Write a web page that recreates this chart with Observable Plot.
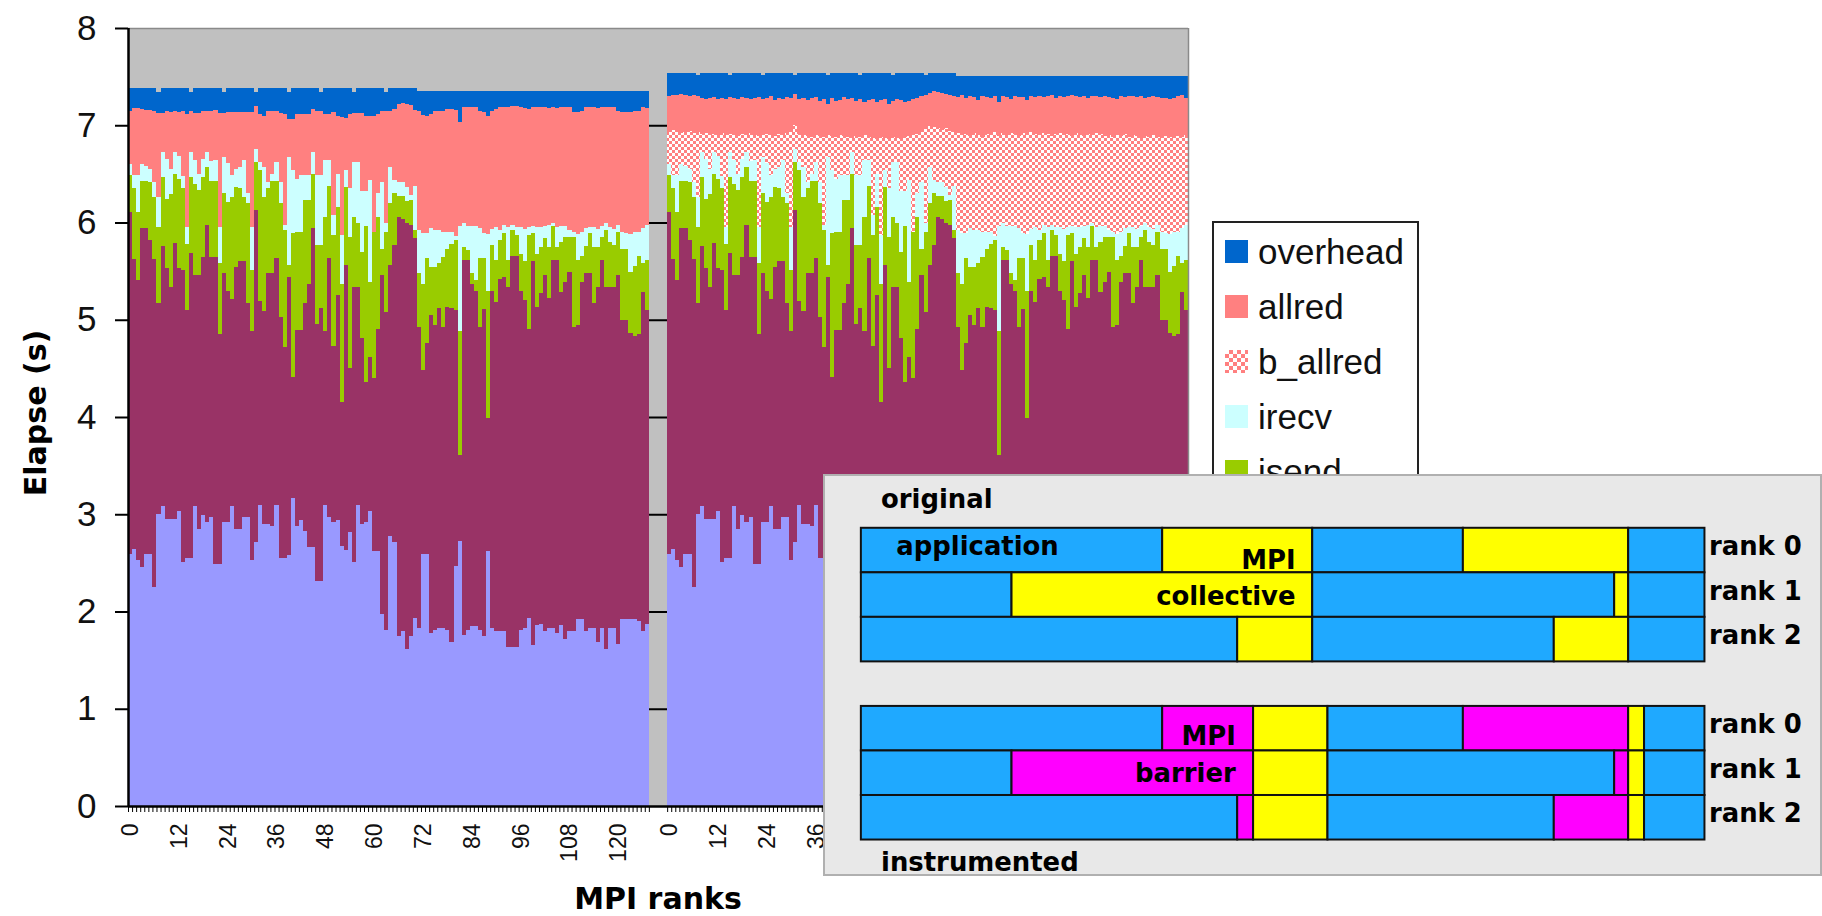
<!DOCTYPE html>
<html><head><meta charset="utf-8">
<script src="https://cdn.jsdelivr.net/npm/d3@7"></script>
<script src="https://cdn.jsdelivr.net/npm/@observablehq/plot@0.6"></script>
<style>
html,body{margin:0;padding:0;background:#fff;}
body{width:1822px;height:916px;overflow:hidden;position:relative;font-family:"Liberation Sans",Arial,sans-serif;}
#chart{position:absolute;left:0;top:0;}
#ytitle{position:absolute;left:-117px;top:398px;width:300px;height:30px;line-height:30px;text-align:center;font:bold 30px "DejaVu Sans",sans-serif;transform:rotate(-90deg);}
#xtitle{position:absolute;left:458px;top:881px;width:400px;height:30px;line-height:30px;text-align:center;font:bold 30px "DejaVu Sans",sans-serif;}
#legend{position:absolute;left:1212px;top:221px;width:207px;height:340px;box-sizing:border-box;border:2px solid #222;background:#fff;}
#legend .item{position:absolute;left:0;height:40px;width:200px;}
#legend .sw{position:absolute;left:11px;top:8px;width:23px;height:23px;}
#legend .lab{position:absolute;left:44px;top:0;line-height:40px;font-size:35px;color:#111;white-space:nowrap;}
#inset{position:absolute;left:823px;top:474px;width:999px;height:402px;box-sizing:border-box;border:2px solid #b0b0b0;background:#e8e8e8;}
#inset svg{position:absolute;left:-2px;top:-2px;overflow:visible;}
</style></head><body>
<div id="chart"></div>
<div id="ytitle">Elapse (s)</div>
<div id="xtitle">MPI ranks</div>
<div id="legend"></div>
<div id="inset"></div>
<script>
// ---------------- data (seconds, cumulative tops per rank) ----------------
const rankLabels = [0,12,24,36,48,60,72,84,96,108,120];
const yTicks = [0,1,2,3,4,5,6,7,8];
const legendNames = ["overhead","allred","b_allred","irecv","isend"];

// bottom (lavender) series top
const compTop = [2.59,2.64,2.53,2.46,2.59,2.59,2.25,3.00,3.08,2.95,
 2.95,2.95,3.03,2.51,2.55,2.55,3.08,2.85,2.99,2.92,
 2.97,2.49,2.49,2.92,2.92,3.08,2.85,2.85,2.97,2.97,
 2.53,2.71,3.10,2.90,2.90,2.88,3.10,2.55,2.55,2.58,
 3.17,2.88,2.94,2.83,2.66,2.66,2.31,2.31,3.10,2.97,
 2.92,2.94,2.67,2.63,2.82,2.51,3.10,2.90,2.92,3.03,
 2.62,2.62,1.97,1.81,2.78,2.71,1.75,1.80,1.61,1.75,
 1.93,1.83,2.59,2.59,1.78,1.81,1.83,1.83,1.81,1.69,
 2.47,2.73,1.76,1.81,1.85,1.85,1.81,1.75,2.62,1.83,
 1.80,1.80,1.80,1.63,1.63,1.63,1.81,1.83,1.93,1.66,
 1.86,1.87,1.80,1.83,1.83,1.78,1.86,1.72,1.80,1.80,
 1.92,1.92,1.80,1.83,1.83,1.69,1.83,1.61,1.83,1.83,
 1.67,1.92,1.92,1.92,1.92,1.90,1.80,1.87];
// maroon series top
const waitTop = [6.11,5.62,5.41,5.94,5.94,5.82,5.62,5.17,5.76,5.53,
 5.34,5.79,5.53,5.51,5.10,5.69,5.46,5.46,5.65,5.97,
 5.65,5.65,4.85,5.48,5.30,5.21,5.54,5.60,5.60,5.17,
 4.88,6.13,5.19,5.09,5.48,5.48,5.64,5.03,4.72,5.44,
 4.41,4.89,4.89,5.17,5.37,5.94,4.96,5.12,4.88,5.63,
 4.73,5.25,4.15,5.56,4.50,5.34,5.34,4.81,4.36,4.62,
 4.40,4.91,5.46,5.08,5.56,5.77,6.06,6.04,6.00,5.97,
 5.84,4.93,4.48,4.76,5.05,4.95,5.12,4.93,5.13,5.12,
 5.10,3.61,5.61,5.61,5.37,5.30,4.93,5.11,3.99,5.30,
 5.18,5.42,5.44,5.34,5.66,5.66,5.30,5.20,4.90,5.60,
 5.13,5.27,5.46,5.22,5.61,5.61,5.29,5.39,5.49,4.93,
 4.95,5.39,5.48,5.48,5.17,5.34,5.61,5.34,5.34,5.34,
 5.46,5.00,5.00,4.86,4.83,4.85,5.29,5.10];
const isendTop = [6.49,6.35,6.11,6.43,6.43,6.42,6.26,5.95,6.47,6.24,
 6.29,6.50,6.45,6.35,5.78,6.47,6.40,6.33,6.47,6.57,
 6.43,6.43,5.58,6.30,6.21,6.26,6.37,6.35,6.26,6.20,
 5.51,6.62,6.54,6.26,6.35,6.43,6.43,6.20,5.92,5.56,
 5.89,5.90,5.90,6.23,6.23,6.50,5.77,5.77,6.06,6.38,
 5.87,6.16,5.37,6.37,5.85,6.06,5.99,5.70,5.96,5.39,
 5.97,6.06,5.73,5.90,6.20,6.30,6.27,6.27,6.22,6.23,
 5.92,5.48,5.37,5.63,5.54,5.54,5.58,5.65,5.73,5.78,
 5.82,4.88,5.75,5.72,5.48,5.41,5.63,5.63,5.30,5.77,
 5.61,5.82,5.89,5.61,5.92,5.87,5.68,5.60,5.87,5.89,
 5.68,5.75,5.84,5.75,5.96,5.75,5.80,5.85,5.85,5.85,
 5.61,5.66,5.76,5.89,5.75,5.75,5.85,5.92,5.80,5.77,
 5.90,5.73,5.73,5.49,5.55,5.66,5.58,5.61];
const irecvTop = [6.60,6.49,6.49,6.60,6.58,6.55,6.42,6.26,6.72,6.65,
 6.55,6.72,6.68,6.48,5.95,6.72,6.64,6.50,6.65,6.72,
 6.63,6.64,5.95,6.67,6.61,6.49,6.55,6.57,6.64,6.30,
 5.95,6.76,6.62,6.57,6.42,6.50,6.62,6.42,5.97,6.67,
 6.54,6.45,6.49,6.49,6.49,6.72,6.49,6.49,6.64,6.64,
 6.08,6.50,5.87,6.54,6.35,6.62,6.62,6.32,6.32,6.44,
 5.90,6.30,6.42,6.00,6.57,6.44,6.42,6.42,6.36,6.28,
 6.38,5.92,5.89,5.89,5.94,5.92,5.92,5.90,5.90,5.90,
 5.86,5.96,5.99,5.96,5.96,5.96,5.94,5.89,5.88,5.93,
 5.95,5.92,5.97,5.95,5.97,5.95,5.95,5.93,5.95,5.96,
 5.95,5.95,5.96,5.97,6.00,5.95,5.96,5.96,5.92,5.90,
 5.88,5.90,5.94,5.95,5.95,5.93,5.96,6.00,5.95,5.93,
 5.97,5.90,5.89,5.88,5.90,5.90,5.94,5.97];
// original run
const allredTopOrig = [7.15,7.18,7.18,7.17,7.16,7.16,7.15,7.13,7.13,7.15,
 7.14,7.15,7.14,7.15,7.12,7.15,7.13,7.13,7.15,7.15,
 7.15,7.16,7.13,7.13,7.14,7.14,7.14,7.14,7.14,7.14,
 7.14,7.20,7.12,7.10,7.15,7.15,7.15,7.13,7.12,7.06,
 7.06,7.12,7.12,7.12,7.12,7.17,7.15,7.15,7.12,7.12,
 7.14,7.09,7.08,7.07,7.12,7.13,7.13,7.13,7.09,7.09,
 7.10,7.12,7.15,7.15,7.15,7.17,7.22,7.23,7.22,7.21,
 7.16,7.15,7.11,7.10,7.12,7.15,7.15,7.15,7.17,7.17,
 7.16,7.03,7.19,7.19,7.19,7.19,7.15,7.14,7.09,7.15,
 7.17,7.19,7.19,7.19,7.20,7.20,7.19,7.18,7.17,7.19,
 7.19,7.19,7.19,7.18,7.19,7.18,7.19,7.19,7.19,7.14,
 7.14,7.15,7.19,7.19,7.19,7.18,7.19,7.19,7.19,7.19,
 7.15,7.14,7.14,7.14,7.15,7.15,7.19,7.18];
const overheadTopOrig = [7.38,7.38,7.38,7.38,7.38,7.38,7.38,7.34,7.38,7.38,
 7.38,7.38,7.38,7.38,7.38,7.34,7.38,7.38,7.38,7.38,
 7.38,7.38,7.38,7.34,7.38,7.38,7.38,7.38,7.38,7.38,
 7.38,7.34,7.38,7.38,7.38,7.38,7.38,7.38,7.38,7.34,
 7.38,7.38,7.38,7.38,7.38,7.38,7.38,7.34,7.38,7.38,
 7.38,7.38,7.38,7.38,7.38,7.34,7.38,7.38,7.38,7.38,
 7.38,7.38,7.38,7.34,7.38,7.38,7.38,7.38,7.38,7.38,
 7.38,7.35,7.35,7.35,7.35,7.35,7.35,7.35,7.35,7.35,
 7.35,7.35,7.35,7.35,7.35,7.35,7.35,7.35,7.35,7.35,
 7.35,7.35,7.35,7.35,7.35,7.35,7.35,7.35,7.35,7.35,
 7.35,7.35,7.35,7.35,7.35,7.35,7.35,7.35,7.35,7.35,
 7.35,7.35,7.35,7.35,7.35,7.35,7.35,7.35,7.35,7.35,
 7.35,7.35,7.35,7.35,7.35,7.35,7.35,7.35];
// instrumented run (lower layers read the same as the original run)
const bAllredTopInstr = [6.93,6.95,6.93,6.92,6.93,6.94,6.92,6.93,6.91,6.92,
 6.90,6.91,6.90,6.92,6.90,6.91,6.90,6.89,6.91,6.90,
 6.92,6.90,6.89,6.90,6.91,6.90,6.89,6.91,6.90,6.92,
 6.93,7.00,6.91,6.90,6.89,6.88,6.90,6.89,6.88,6.90,
 6.89,6.88,6.90,6.89,6.88,6.87,6.89,6.88,6.90,6.88,
 6.87,6.86,6.88,6.87,6.86,6.88,6.87,6.86,6.88,6.89,
 6.90,6.91,6.93,6.96,6.99,6.98,6.97,6.95,6.97,6.94,
 6.93,6.92,6.90,6.91,6.89,6.92,6.90,6.88,6.91,6.90,
 6.93,6.89,6.92,6.90,6.92,6.91,6.89,6.92,6.90,6.93,
 6.91,6.90,6.92,6.91,6.89,6.91,6.92,6.90,6.91,6.89,
 6.92,6.90,6.89,6.91,6.90,6.92,6.91,6.89,6.90,6.88,
 6.90,6.89,6.91,6.88,6.90,6.89,6.87,6.89,6.88,6.90,
 6.88,6.87,6.89,6.88,6.87,6.89,6.88,6.90];
const allredTopInstr = [7.30,7.31,7.31,7.32,7.31,7.30,7.31,7.30,7.28,7.27,
 7.28,7.29,7.27,7.28,7.27,7.29,7.28,7.27,7.29,7.28,
 7.27,7.28,7.29,7.27,7.28,7.30,7.26,7.28,7.27,7.29,
 7.28,7.32,7.27,7.28,7.26,7.28,7.29,7.25,7.27,7.22,
 7.28,7.25,7.26,7.29,7.27,7.28,7.25,7.27,7.24,7.26,
 7.27,7.24,7.26,7.27,7.22,7.25,7.27,7.26,7.24,7.25,
 7.27,7.28,7.30,7.31,7.33,7.35,7.34,7.33,7.32,7.31,
 7.30,7.29,7.31,7.28,7.30,7.29,7.26,7.30,7.29,7.28,
 7.30,7.24,7.30,7.29,7.27,7.30,7.29,7.29,7.26,7.30,
 7.29,7.30,7.29,7.30,7.31,7.28,7.30,7.29,7.30,7.31,
 7.30,7.29,7.30,7.28,7.30,7.30,7.29,7.30,7.29,7.28,
 7.27,7.30,7.29,7.30,7.30,7.29,7.30,7.28,7.29,7.30,
 7.29,7.28,7.28,7.27,7.28,7.30,7.31,7.28];
const overheadTopInstr = [7.54,7.54,7.54,7.54,7.54,7.54,7.54,7.52,7.54,7.54,
 7.54,7.54,7.54,7.54,7.54,7.52,7.54,7.54,7.54,7.54,
 7.54,7.54,7.54,7.52,7.54,7.54,7.54,7.54,7.54,7.54,
 7.54,7.52,7.54,7.54,7.54,7.54,7.54,7.54,7.54,7.52,
 7.54,7.54,7.54,7.54,7.54,7.54,7.54,7.52,7.54,7.54,
 7.54,7.54,7.54,7.54,7.54,7.52,7.54,7.54,7.54,7.54,
 7.54,7.54,7.54,7.52,7.54,7.54,7.54,7.54,7.54,7.54,
 7.54,7.51,7.51,7.51,7.51,7.51,7.51,7.51,7.51,7.51,
 7.51,7.51,7.51,7.51,7.51,7.51,7.51,7.51,7.51,7.51,
 7.51,7.51,7.51,7.51,7.51,7.51,7.51,7.51,7.51,7.51,
 7.51,7.51,7.51,7.51,7.51,7.51,7.51,7.51,7.51,7.51,
 7.51,7.51,7.51,7.51,7.51,7.51,7.51,7.51,7.51,7.51,
 7.51,7.51,7.51,7.51,7.51,7.51,7.51,7.51];

// inset timelines: [start, end, kind]
const insetOriginal = [
 [[0,474,"app"],[474,710,"mpi"],[710,947,"app"],[947,1207,"mpi"],[1207,1327,"app"]],
 [[0,237,"app"],[237,710,"mpi"],[710,1185,"app"],[1185,1207,"mpi"],[1207,1327,"app"]],
 [[0,592,"app"],[592,710,"mpi"],[710,1090,"app"],[1090,1207,"mpi"],[1207,1327,"app"]]
];
const insetInstrumented = [
 [[0,474,"app"],[474,617,"bar"],[617,734,"mpi"],[734,947,"app"],[947,1207,"bar"],[1207,1232,"mpi"],[1232,1327,"app"]],
 [[0,237,"app"],[237,617,"bar"],[617,734,"mpi"],[734,1185,"app"],[1185,1207,"bar"],[1207,1232,"mpi"],[1232,1327,"app"]],
 [[0,592,"app"],[592,617,"bar"],[617,734,"mpi"],[734,1090,"app"],[1090,1207,"bar"],[1207,1232,"mpi"],[1232,1327,"app"]]
];
const insetTextsStart = [
 {text:"original", x:31, y:-0.64},
 {text:"instrumented", x:31, y:7.50},
 {text:"application", x:55, y:0.42}
];
const insetTextsEnd = [
 {text:"MPI", x:683, y:0.72},
 {text:"collective", x:683, y:1.54},
 {text:"MPI", x:589, y:4.68},
 {text:"barrier", x:589, y:5.52}
];

// ---------------- build ----------------
const colors = {comp:"#9999ff", wait:"#993366", isend:"#99cc00", irecv:"#ccffff",
  b_allred:"url(#checker)", allred:"#ff8080", overhead:"#0066cc"};
const N = compTop.length;
const groupGap = 4.5;
const offB = N + groupGap;
const xMax = offB + N;
const bars = [];
function addGroup(off, layers) {
  for (let i = 0; i < N; i++) {
    let prev = 0;
    for (const [name, tops] of layers) {
      bars.push({series:name, x1:off+i, x2:off+i+1, y1:prev, y2:tops[i]});
      prev = tops[i];
    }
  }
}
addGroup(0, [["comp",compTop],["wait",waitTop],["isend",isendTop],["irecv",irecvTop],["allred",allredTopOrig],["overhead",overheadTopOrig]]);
addGroup(offB, [["comp",compTop],["wait",waitTop],["isend",isendTop],["irecv",irecvTop],["b_allred",bAllredTopInstr],["allred",allredTopInstr],["overhead",overheadTopInstr]]);

const boundaries = [...d3.range(0, N+1), ...d3.range(0, N+1).map(i => offB + i)];
const labelTicks = [], labelMap = new Map();
for (const r of rankLabels) {
  labelTicks.push(r + 0.5); labelMap.set(r + 0.5, String(r));
  labelTicks.push(offB + r + 0.5); labelMap.set(offB + r + 0.5, String(r));
}

const marks = [
  Plot.frame({fill:"#c0c0c0", stroke:null}),
  Plot.ruleY(yTicks.slice(1, -1), {stroke:"#000", strokeWidth:2})
];
for (const s of Object.keys(colors)) {
  marks.push(Plot.rect(bars.filter(d => d.series === s),
    {x1:"x1", x2:"x2", y1:"y1", y2:"y2", fill:colors[s], shapeRendering:"crispEdges"}));
}
marks.push(
  Plot.ruleY([8], {stroke:"#8a8a8a", strokeWidth:1.5}),
  Plot.ruleX([xMax], {stroke:"#8a8a8a", strokeWidth:1.5}),
  Plot.axisY({ticks:yTicks, tickSize:13, tickPadding:19, fontSize:35, label:null, strokeWidth:2, stroke:"#000"}),
  Plot.axisX({ticks:boundaries, tickSize:6, tickFormat:() => "", label:null, stroke:"#000"}),
  Plot.axisX({ticks:labelTicks, tickSize:0, tickPadding:17, tickRotate:-90, tickFormat:d => labelMap.get(d), fontSize:23, label:null}),
  Plot.ruleX([0], {stroke:"#000", strokeWidth:2.5}),
  Plot.ruleY([0], {stroke:"#000", strokeWidth:2.5})
);

const chart = Plot.plot({
  width:1822, height:916,
  marginLeft:128, marginRight:634, marginTop:28, marginBottom:110,
  x:{domain:[0, xMax]}, y:{domain:[0, 8]},
  style:{fontFamily:'"Liberation Sans", Arial, sans-serif', color:"#111", background:"transparent"},
  marks
});
const defs = d3.select(chart).insert("defs", ":first-child");
const pat = defs.append("pattern").attr("id","checker").attr("width",6).attr("height",6).attr("patternUnits","userSpaceOnUse");
pat.append("rect").attr("width",6).attr("height",6).attr("fill","#ffffff");
pat.append("rect").attr("width",3).attr("height",3).attr("fill","#ff8080");
pat.append("rect").attr("x",3).attr("y",3).attr("width",3).attr("height",3).attr("fill","#ff8080");
document.getElementById("chart").append(chart);

// legend
const legendColors = {overhead:"#0066cc", allred:"#ff8080", b_allred:null, irecv:"#ccffff", isend:"#99cc00"};
const lg = document.getElementById("legend");
legendNames.forEach((n, k) => {
  const it = document.createElement("div");
  it.className = "item"; it.style.top = (9 + 55*k) + "px";
  const sw = document.createElement("span"); sw.className = "sw";
  if (legendColors[n]) sw.style.background = legendColors[n];
  else sw.style.background = "repeating-conic-gradient(#ff8080 0 25%, #fff 0 50%) 0 0/8px 8px";
  const lab = document.createElement("span"); lab.className = "lab"; lab.textContent = n;
  it.append(sw, lab); lg.append(it);
});

// inset diagram
const insetFill = {app:"#1fa9ff", mpi:"#ffff00", bar:"#ff00ff"};
const segs = [];
insetOriginal.forEach((row, r) => row.forEach(([a,b,k]) => segs.push({x1:a, x2:b, y1:r, y2:r+1, kind:k})));
insetInstrumented.forEach((row, r) => row.forEach(([a,b,k]) => segs.push({x1:a, x2:b, y1:4+r, y2:5+r, kind:k})));
const rankTexts = [0,1,2].flatMap(r => [{text:"rank " + r, row:r}, {text:"rank " + r, row:4+r}]);
const txt = {fontSize:26, fontWeight:"bold", fill:"#000"};
const insetChart = Plot.plot({
  width:999, height:420,
  marginLeft:38, marginRight:114, marginTop:54, marginBottom:53,
  x:{domain:[0,1327], axis:null}, y:{domain:[0,7], reverse:true, axis:null},
  style:{background:"transparent", fontFamily:'"DejaVu Sans", sans-serif'},
  marks:[
    Plot.rect(segs, {x1:"x1", x2:"x2", y1:"y1", y2:"y2", fill:d => insetFill[d.kind], stroke:"#111", strokeWidth:2}),
    Plot.text(insetTextsStart, {x:"x", y:"y", text:"text", textAnchor:"start", ...txt}),
    Plot.text(insetTextsEnd, {x:"x", y:"y", text:"text", textAnchor:"end", ...txt}),
    Plot.text(rankTexts, {x:1327, y:d => d.row + 0.42, text:"text", textAnchor:"start", dx:4, ...txt})
  ]
});
document.getElementById("inset").append(insetChart);
</script>
</body></html>
